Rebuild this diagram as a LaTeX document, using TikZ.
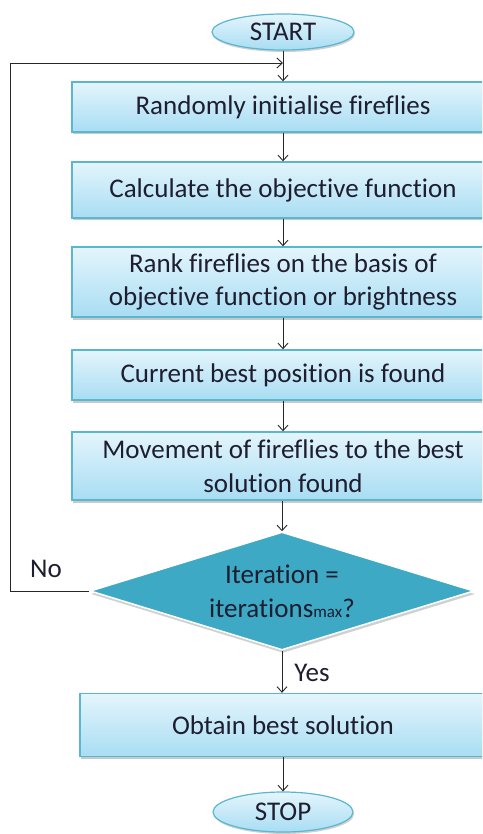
\documentclass[tikz,border=0pt]{standalone}
\usepackage{fontspec}
\setmainfont[Ligatures={NoCommon}]{Carlito}
\usetikzlibrary{shapes.geometric,arrows.meta,shadows}
\definecolor{txt}{HTML}{1E1E30}
\definecolor{bordc}{HTML}{5BB7D0}
\definecolor{boxtop}{HTML}{E4F5FC}
\definecolor{boxbot}{HTML}{A8DDF3}
\definecolor{diafill}{HTML}{3EA9C5}
\tikzset{
  stepbox/.style={draw=bordc, line width=1.4pt, top color=boxtop, bottom color=boxbot,
    text=txt, font=\fontsize{27}{33.5}\selectfont, align=center, inner sep=0pt,
    minimum width=422pt, drop shadow={shadow xshift=1pt, shadow yshift=-2.5pt, fill=black!35, opacity=0.6}},
  term/.style={ellipse, draw=bordc, line width=1.2pt, top color=boxtop, bottom color=boxbot,
    text=txt, font=\fontsize{27}{33}\selectfont, inner sep=0pt,
    drop shadow={shadow xshift=1pt, shadow yshift=-2pt, fill=black!30, opacity=0.6}},
  dec/.style={diamond, draw=white, line width=1.5pt, fill=diafill, text=txt,
    font=\fontsize{27}{34}\selectfont, align=center, inner sep=0pt, aspect=3.27,
    minimum width=384pt, minimum height=118pt,
    drop shadow={shadow xshift=1pt, shadow yshift=-3pt, fill=black!30, opacity=0.6}},
  arr/.style={draw=black!85, line width=0.9pt, -{Straight Barb[length=5.5pt,width=10pt]}},
  lab/.style={text=txt, font=\fontsize{27}{33}\selectfont}
}
\begin{document}
\begin{tikzpicture}[x=1pt,y=-1pt]
\useasboundingbox (0,0) rectangle (482,834);
\clip (0,0) rectangle (482,834);
\fill[white] (0,0) rectangle (482,834);
\node[term, minimum width=142pt, minimum height=36pt] (start) at (283,32) {START};
\node[stepbox, minimum height=50pt] (b1) at (283,107) {Randomly initialise fireflies};
\node[stepbox, minimum height=56pt] (b2) at (283,190) {Calculate the objective function};
\node[stepbox, minimum height=70pt] (b3) at (283,282) {Rank fireflies on the basis of\\objective function or brightness};
\node[stepbox, minimum height=50pt] (b4) at (283,375) {Current best position is found};
\node[stepbox, minimum height=68pt] (b5) at (283,466) {Movement of fireflies to the best\\solution found};
\node[dec] (d) at (282,591) {Iteration =\\iterations{\fontsize{17}{19}\selectfont max}?};
\node[stepbox, minimum height=63pt, minimum width=406pt] (b6) at (283,725) {Obtain best solution};
\node[term, minimum width=140pt, minimum height=40pt] (stop) at (283,812) {STOP};
\coordinate (loopA) at (10,591);
\coordinate (loopB) at (10,63);
\coordinate (loopC) at (283,63);
\draw[arr] (start) -- (b1);
\draw[arr] (b1) -- (b2);
\draw[arr] (b2) -- (b3);
\draw[arr] (b3) -- (b4);
\draw[arr] (b4) -- (b5);
\draw[arr] (b5.south -| d.north) -- (d.north);
\draw[arr] (d.south) -- (d.south |- b6.north);
\draw[arr] (b6) -- (stop);
\draw[arr] (d.west) -- (loopA) -- (loopB) -- (loopC);
\node[lab] (no) at (46,569) {No};
\node[lab] (yes) at (312,673) {Yes};
\end{tikzpicture}
\end{document}
